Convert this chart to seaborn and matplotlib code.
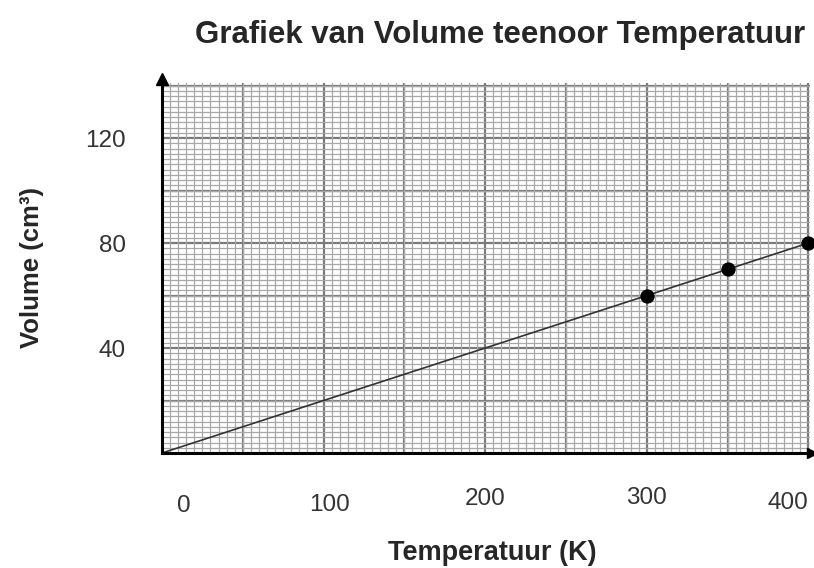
import numpy as np
import pandas as pd
import seaborn as sns
import matplotlib.pyplot as plt
from matplotlib.ticker import MultipleLocator
from matplotlib.transforms import ScaledTranslation

# data
temperature = [300, 350, 400]
volume = [60, 70, 80]
fit_temp = [0, 400]
fit_vol = [0, 80]
x_ticks = [0, 100, 200, 300, 400]
y_ticks = [40, 80, 120]

df = pd.DataFrame({'Temperatuur': temperature, 'Volume': volume})
df_fit = pd.DataFrame({'Temperatuur': fit_temp, 'Volume': fit_vol})

sns.set_style('white')
plt.rcParams['font.family'] = ['Liberation Sans', 'DejaVu Sans']

fig = plt.figure(figsize=(8.14, 5.68), dpi=100)
ax = fig.add_axes([162 / 814, 115 / 568, 648 / 814, 370 / 568])

# grafiekpapier
ax.xaxis.set_minor_locator(MultipleLocator(5))
ax.yaxis.set_minor_locator(MultipleLocator(2))
ax.grid(which='minor', color='#a8a8a8', linewidth=0.9)
ax.set_axisbelow(True)
for xv in np.arange(50, 401, 50):
    ax.axvline(xv, color='#7a7a7a', linewidth=1.6, zorder=0.5)
for yv in np.arange(20, 141, 20):
    ax.axhline(yv, color='#7a7a7a', linewidth=1.6, zorder=0.5)

sns.lineplot(data=df_fit, x='Temperatuur', y='Volume', ax=ax, color='#333333', linewidth=1.2)
sns.scatterplot(data=df, x='Temperatuur', y='Volume', ax=ax, color='black', s=90,
                edgecolor='black', zorder=5, clip_on=False)

ax.set_xlim(0, 401)
ax.set_ylim(0, 141)

ax.spines['top'].set_visible(False)
ax.spines['right'].set_visible(False)
for s in ['left', 'bottom']:
    ax.spines[s].set_color('black')
    ax.spines[s].set_linewidth(2.2)
    ax.spines[s].set_zorder(6)

# pyltjies aan die asse
ax.plot([0], [1.01], marker='^', color='black', markersize=9, transform=ax.transAxes, clip_on=False)
ax.plot([1.003], [0], marker='>', color='black', markersize=7, transform=ax.transAxes, clip_on=False)

# tick labels sit apart from the grid, no tick marks
ax.set_xticks(x_ticks)
ax.set_yticks(y_ticks)
ax.set_xticklabels([str(v) for v in x_ticks])
ax.set_yticklabels([str(v) for v in y_ticks])
ax.tick_params(axis='both', which='both', length=0, labelsize=17.5, labelcolor='#333333')
ax.tick_params(axis='x', pad=28)
ax.tick_params(axis='y', pad=26)

labels = ax.get_xticklabels()
labels[0].set_transform(labels[0].get_transform() + ScaledTranslation(0.22, -0.03, fig.dpi_scale_trans))
labels[1].set_transform(labels[1].get_transform() + ScaledTranslation(0.06, -0.02, fig.dpi_scale_trans))
labels[2].set_transform(labels[2].get_transform() + ScaledTranslation(0, 0.04, fig.dpi_scale_trans))
labels[3].set_transform(labels[3].get_transform() + ScaledTranslation(0, 0.05, fig.dpi_scale_trans))
labels[-1].set_transform(labels[-1].get_transform() + ScaledTranslation(-0.21, 0, fig.dpi_scale_trans))

ax.set_xlabel('Temperatuur (K)', fontsize=19.5, fontweight='bold')
ax.set_ylabel('Volume (cm³)', fontsize=18.5, fontweight='bold', labelpad=30)
ax.xaxis.set_label_coords(0.51, -0.235)
fig.suptitle('Grafiek van Volume teenoor Temperatuur', x=0.614, y=0.965,
             fontsize=22.5, fontweight='bold')

fig.savefig('out.png', dpi=100)
